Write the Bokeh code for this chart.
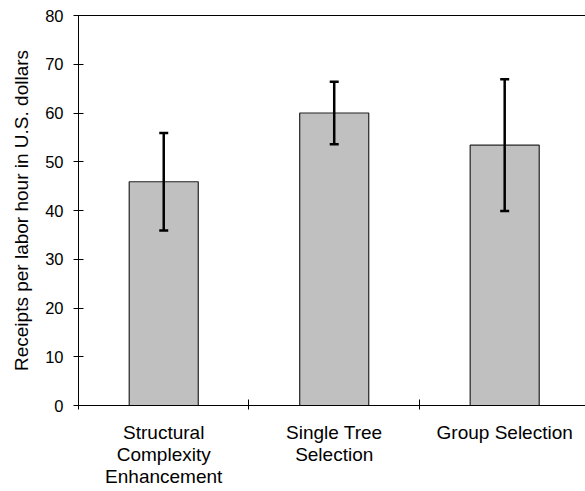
from bokeh.plotting import figure
from bokeh.models import (ColumnDataSource, Range1d, FixedTicker, LinearAxis,
                          Whisker, TeeHead)
from bokeh.embed import file_html
from bokeh.resources import INLINE

# ---- data ----
categories = ["Structural\nComplexity\nEnhancement", "Single Tree\nSelection", "Group Selection"]
positions = [0.5, 1.5, 2.5]
receipts = [45.9, 60.0, 53.4]
err_upper = [55.9, 66.4, 66.9]
err_lower = [35.9, 53.6, 39.9]
y_ticks = [0, 10, 20, 30, 40, 50, 60, 70, 80]
boundary_ticks = [0, 1, 2, 3]

FONT = "Liberation Sans"

src = ColumnDataSource(dict(x=positions, top=receipts, upper=err_upper, lower=err_lower))

p = figure(output_backend="svg", toolbar_location=None,
           frame_width=507, frame_height=390,
           min_border_left=78, min_border_right=0, min_border_top=15, min_border_bottom=84,
           x_range=Range1d(0, 2.974), y_range=Range1d(0, 80),
           x_axis_location=None, y_axis_location=None)
p.outline_line_color = None
p.xgrid.grid_line_color = None
p.ygrid.grid_line_color = None
p.background_fill_color = "white"
p.border_fill_color = "white"

p.vbar(x="x", top="top", width=0.405, source=src,
       fill_color="#C0C0C0", line_color="#222222", line_width=1.2)

wh = Whisker(source=src, base="x", upper="upper", lower="lower",
             line_color="black", line_width=2.5, level="overlay",
             upper_head=TeeHead(size=9, line_width=2.5, line_color="black"),
             lower_head=TeeHead(size=9, line_width=2.5, line_color="black"))
p.add_layout(wh)

# y axis
yax = LinearAxis(ticker=FixedTicker(ticks=y_ticks, minor_ticks=[]))
yax.axis_label = "Receipts per labor hour in U.S. dollars"
yax.axis_label_text_font = FONT
yax.axis_label_text_font_size = "19px"
yax.axis_label_text_font_style = "normal"
yax.axis_label_text_color = "black"
yax.axis_label_standoff = 10
yax.major_label_text_font = FONT
yax.major_label_text_font_size = "16.5px"
yax.major_label_text_color = "black"
yax.major_label_standoff = 10
yax.major_tick_in = 5
yax.major_tick_out = 5
yax.axis_line_color = "black"
yax.major_tick_line_color = "black"
p.add_layout(yax, "left")

# x axis: labels at category centres, ticks at boundaries
xax = LinearAxis(ticker=FixedTicker(ticks=positions, minor_ticks=boundary_ticks))
xax.major_label_overrides = {pos: lab for pos, lab in zip(positions, categories)}
xax.major_label_text_font = FONT
xax.major_label_text_font_size = "19px"
xax.major_label_text_color = "black"
xax.major_label_standoff = 12
xax.major_label_text_line_height = 1.07
xax.major_tick_in = 0
xax.major_tick_out = 0
xax.minor_tick_in = 6
xax.minor_tick_out = 4
xax.minor_tick_line_color = "black"
xax.axis_line_color = "black"
p.add_layout(xax, "below")

# top frame line
tax = LinearAxis(ticker=FixedTicker(ticks=[]))
tax.major_tick_out = 0
tax.major_tick_in = 0
tax.minor_tick_out = 0
tax.major_label_standoff = 0
tax.major_label_text_font_size = "0px"
tax.axis_line_color = "black"
p.add_layout(tax, "above")

open("out.html", "w").write(file_html(p, INLINE))
